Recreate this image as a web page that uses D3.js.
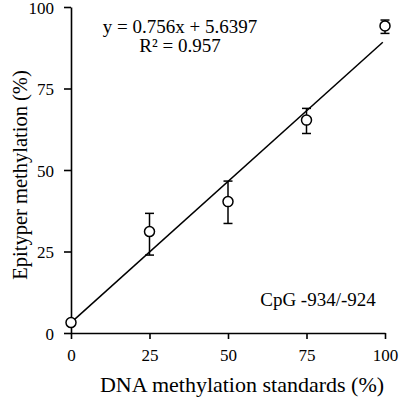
<!DOCTYPE html>
<html>
<head>
<meta charset="utf-8">
<script src="https://cdn.jsdelivr.net/npm/d3@7"></script>
<style>
  body { margin: 0; background: #fff; }
  svg text { font-family: "Liberation Serif", "Times New Roman", serif; fill: #000; }
</style>
</head>
<body>
<div id="chart"></div>
<script>
// standards (%) and measured values
var standards = [0, 25, 50, 75, 100];
var measured = [3.2, 31.1, 40.3, 65.3, 94.2];
var errLow = [2.6, 23.9, 33.6, 61.2, 91.9];
var errHigh = [3.8, 36.7, 46.6, 68.9, 96.0];
var fitX = [0, 99.3];
var fitY = [3.2, 89.2];
var ticks = [0, 25, 50, 75, 100];

var width = 400, height = 401;
var margin = { top: 7, right: 15, bottom: 68, left: 71 };

var svg = d3.select("#chart").append("svg")
  .attr("width", width)
  .attr("height", height);

var x = d3.scaleLinear().domain([0, 100]).range([margin.left, 385]);
var y = d3.scaleLinear().domain([0, 100]).range([333, margin.top]);

// axes
var xAxis = d3.axisBottom(x).tickValues(ticks).tickSize(6).tickPadding(6).tickSizeOuter(0);
var yAxis = d3.axisLeft(y).tickValues(ticks).tickSize(7).tickPadding(10).tickSizeOuter(0);

var gx = svg.append("g")
  .attr("transform", "translate(0," + y(0) + ")")
  .call(xAxis);
var gy = svg.append("g")
  .attr("transform", "translate(" + x(0) + ",0)")
  .call(yAxis);

[gx, gy].forEach(function(g) {
  g.attr("font-family", "Liberation Serif");
  g.selectAll("path, line").attr("stroke", "#000").attr("stroke-width", 1.6);
  g.selectAll("text").style("font-size", "17px");
});
gx.selectAll("text").attr("dy", "0.95em");
gy.selectAll("text").attr("dy", "0.38em");

// regression line
svg.append("line")
  .attr("x1", x(fitX[0])).attr("y1", y(fitY[0]))
  .attr("x2", x(fitX[1])).attr("y2", y(fitY[1]))
  .attr("stroke", "#000").attr("stroke-width", 1.5);

// error bars
var pts = standards.map(function(s, i) {
  return { s: s, m: measured[i], lo: errLow[i], hi: errHigh[i] };
});
var eb = svg.append("g").selectAll("g").data(pts).enter().append("g");
eb.append("line")
  .attr("x1", function(d) { return x(d.s); }).attr("x2", function(d) { return x(d.s); })
  .attr("y1", function(d) { return y(d.lo); }).attr("y2", function(d) { return y(d.hi); })
  .attr("stroke", "#000").attr("stroke-width", 1.5);
eb.selectAll(".cap").data(function(d) { return [[d.s, d.lo], [d.s, d.hi]]; })
  .enter().append("line")
  .attr("class", "cap")
  .attr("x1", function(d) { return x(d[0]) - 4.5; }).attr("x2", function(d) { return x(d[0]) + 4.5; })
  .attr("y1", function(d) { return y(d[1]); }).attr("y2", function(d) { return y(d[1]); })
  .attr("stroke", "#000").attr("stroke-width", 1.5);

// points
svg.append("g").selectAll("circle").data(pts).enter().append("circle")
  .attr("cx", function(d) { return x(d.s); })
  .attr("cy", function(d) { return y(d.m); })
  .attr("r", 5)
  .attr("fill", "#fff")
  .attr("stroke", "#000")
  .attr("stroke-width", 1.5);

// annotations
svg.append("text").attr("x", 180).attr("y", 33).attr("text-anchor", "middle")
  .style("font-size", "19px").text("y = 0.756x + 5.6397");
svg.append("text").attr("x", 180).attr("y", 52).attr("text-anchor", "middle")
  .style("font-size", "19px").text("R² = 0.957");
svg.append("text").attr("x", 318).attr("y", 306).attr("text-anchor", "middle")
  .style("font-size", "19px").text("CpG -934/-924");

// axis titles
svg.append("text").attr("x", 242).attr("y", 392).attr("text-anchor", "middle")
  .style("font-size", "22px").text("DNA methylation standards (%)");
svg.append("text")
  .attr("transform", "translate(27," + 175 + ") rotate(-90)")
  .attr("text-anchor", "middle")
  .style("font-size", "20.5px").text("Epityper methylation (%)");
</script>
</body>
</html>
